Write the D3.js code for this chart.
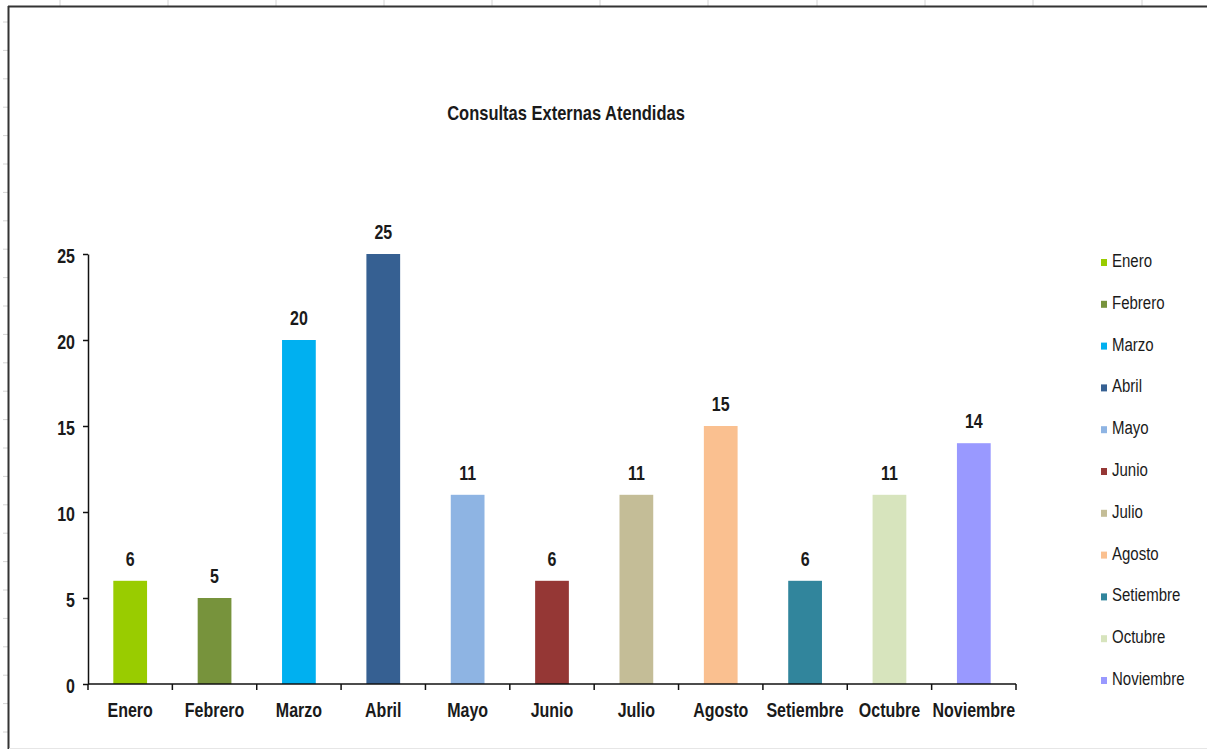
<!DOCTYPE html>
<html>
<head>
<meta charset="utf-8">
<script src="https://cdn.jsdelivr.net/npm/d3@7"></script>
<style>
  html, body { margin: 0; padding: 0; background: #fff; }
  svg { display: block; }
  text { font-family: "Liberation Sans", Arial, sans-serif; fill: #1a1a1a; }
</style>
</head>
<body>
<svg id="chart" width="1207" height="749"></svg>
<script>
// Monthly counts of outpatient consultations
const months = ["Enero", "Febrero", "Marzo", "Abril", "Mayo", "Junio", "Julio", "Agosto", "Setiembre", "Octubre", "Noviembre"];
const consultas = [6, 5, 20, 25, 11, 6, 11, 15, 6, 11, 14];
const colors = ["#99cc00", "#77933c", "#00b0f0", "#366092", "#8eb4e3", "#953735", "#c4bd97", "#fac090", "#31859c", "#d7e4bd", "#9999ff"];
const yTicks = [0, 5, 10, 15, 20, 25];
const chartTitle = "Consultas Externas Atendidas";

const svg = d3.select("#chart");
const W = 1207, H = 749;
const STRETCH = 1.28; // tall, compressed lettering

// Worksheet cells showing around the chart frame
const colLines = [60, 168, 276, 384, 492, 600, 708, 817, 925, 1033, 1142];
svg.append("g").selectAll("line").data(colLines).join("line")
  .attr("x1", d => d).attr("x2", d => d).attr("y1", 0).attr("y2", 6)
  .attr("stroke", "#d4d4d4").attr("stroke-width", 1);
svg.append("g").selectAll("line").data(d3.range(26).map(i => 22 + i * 28.4)).join("line")
  .attr("x1", 3).attr("x2", 8).attr("y1", d => d).attr("y2", d => d)
  .attr("stroke", "#d4d4d4").attr("stroke-width", 1);

// Chart frame
svg.append("line").attr("x1", 8).attr("x2", W).attr("y1", 6.5).attr("y2", 6.5)
  .attr("stroke", "#333").attr("stroke-width", 2);
svg.append("line").attr("x1", 8.5).attr("x2", 8.5).attr("y1", 6).attr("y2", H)
  .attr("stroke", "#333").attr("stroke-width", 2);
svg.append("line").attr("x1", 9).attr("x2", W).attr("y1", 748.5).attr("y2", 748.5)
  .attr("stroke", "#e6e6e6").attr("stroke-width", 1);

// Helper: place tall text with its baseline at (x, y)
function tallText(sel, x, y) {
  return sel.attr("x", 0).attr("y", 0)
    .attr("transform", `translate(${x},${y}) scale(1,${STRETCH})`);
}

// Title
tallText(svg.append("text"), 566, 120)
  .attr("text-anchor", "middle")
  .attr("font-weight", "bold")
  .attr("font-size", 16.5)
  .text(chartTitle);

// Plot area
const plotLeft = 88, plotRight = 1016, plotTop = 254, plotBottom = 684;

const x = d3.scaleBand()
  .domain(months)
  .range([plotLeft, plotRight])
  .paddingInner(0.6)
  .paddingOuter(0.3);

const y = d3.scaleLinear()
  .domain([0, 25])
  .range([plotBottom, plotTop]);

// Bars
svg.append("g").selectAll("rect").data(months).join("rect")
  .attr("x", d => x(d))
  .attr("width", x.bandwidth())
  .attr("y", (d, i) => y(consultas[i]))
  .attr("height", (d, i) => y(0) - y(consultas[i]))
  .attr("fill", (d, i) => colors[i]);

// Value labels
svg.append("g").selectAll("text").data(months).join("text")
  .each(function (d, i) {
    tallText(d3.select(this), x(d) + x.bandwidth() / 2, y(consultas[i]) - 15);
  })
  .attr("text-anchor", "middle")
  .attr("font-weight", "bold")
  .attr("font-size", 16)
  .text((d, i) => consultas[i]);

// Y axis
const yAxis = svg.append("g")
  .attr("transform", `translate(${plotLeft},0)`)
  .call(d3.axisLeft(y).tickValues(yTicks).tickSize(5).tickSizeOuter(0).tickFormat(d3.format("d")));
yAxis.select(".domain").attr("stroke", "#111").attr("stroke-width", 1.5);
yAxis.selectAll(".tick line").attr("stroke", "#111").attr("stroke-width", 1.5);
yAxis.selectAll(".tick text")
  .attr("dy", null)
  .attr("x", -13).attr("y", 0)
  .attr("transform", `translate(0,8) scale(1,${STRETCH})`)
  .attr("font-family", null)
  .attr("font-size", 16)
  .attr("font-weight", "bold")
  .attr("fill", "#1a1a1a");

// X axis: ticks sit on the category boundaries
const step = x.step();
const boundaries = d3.range(months.length + 1).map(i => plotLeft + i * step);
svg.append("line")
  .attr("x1", plotLeft).attr("x2", plotRight).attr("y1", plotBottom).attr("y2", plotBottom)
  .attr("stroke", "#111").attr("stroke-width", 1.5);
svg.append("g").selectAll("line").data(boundaries).join("line")
  .attr("x1", d => d).attr("x2", d => d)
  .attr("y1", plotBottom).attr("y2", plotBottom + 6)
  .attr("stroke", "#111").attr("stroke-width", 1.5);
svg.append("g").selectAll("text").data(months).join("text")
  .each(function (d) {
    tallText(d3.select(this), x(d) + x.bandwidth() / 2, 717);
  })
  .attr("text-anchor", "middle")
  .attr("font-weight", "bold")
  .attr("font-size", 16)
  .text(d => d);

// Legend
const legendY = d3.scalePoint().domain(months).range([262, 680]);
const legend = svg.append("g");
legend.selectAll("rect").data(months).join("rect")
  .attr("x", 1101).attr("y", d => legendY(d) - 3)
  .attr("width", 6).attr("height", 7)
  .attr("fill", (d, i) => colors[i]);
legend.selectAll("text").data(months).join("text")
  .each(function (d) {
    tallText(d3.select(this), 1112, legendY(d) + 5);
  })
  .attr("font-size", 15)
  .attr("fill", "#222")
  .text(d => d);
</script>
</body>
</html>
